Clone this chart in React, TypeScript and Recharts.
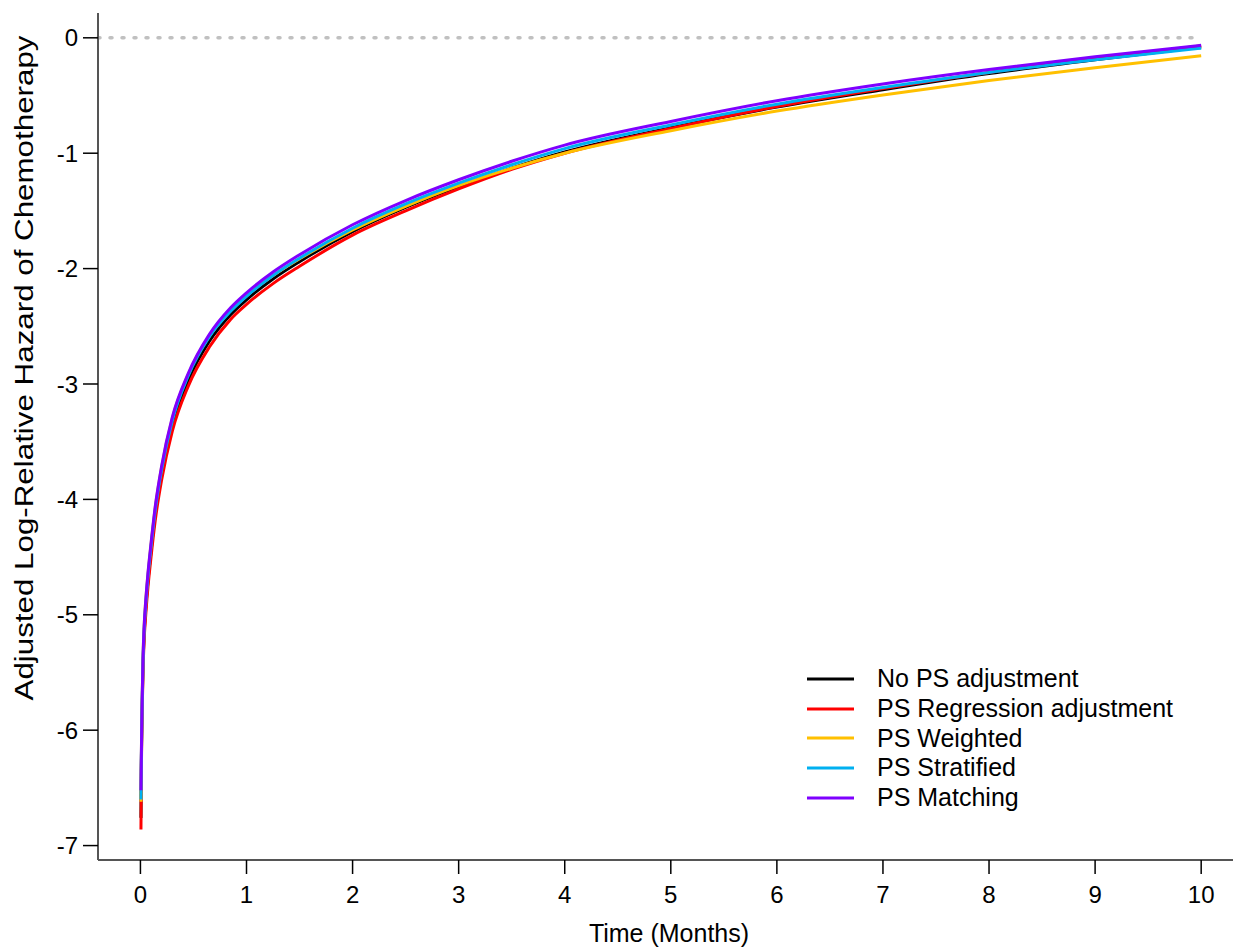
import { LineChart, Line, XAxis, YAxis, ReferenceLine, Legend } from 'recharts';

const TIME = [0.005, 0.008, 0.012, 0.018, 0.025, 0.035, 0.05, 0.07, 0.1, 0.14, 0.2, 0.3, 0.45, 0.65, 0.85, 1, 1.25, 1.5, 2, 2.5, 3, 3.5, 4, 5, 6, 7, 8, 9, 10];

const NO_PS = [-6.76, -6.35, -6.05, -5.72, -5.42, -5.17, -4.95, -4.72, -4.45, -4.13, -3.78, -3.36, -2.97, -2.63, -2.4, -2.27, -2.09, -1.94, -1.68, -1.47, -1.29, -1.13, -0.99, -0.78, -0.6, -0.45, -0.31, -0.19, -0.08];
const PS_REGRESSION = [-6.86, -6.42, -6.1, -5.77, -5.47, -5.22, -5.0, -4.77, -4.5, -4.18, -3.83, -3.41, -3.02, -2.68, -2.44, -2.31, -2.13, -1.98, -1.71, -1.5, -1.31, -1.14, -1.0, -0.785, -0.595, -0.44, -0.3, -0.18, -0.07];
const PS_WEIGHTED = [-6.62, -6.28, -5.98, -5.65, -5.35, -5.1, -4.88, -4.66, -4.39, -4.07, -3.72, -3.3, -2.92, -2.58, -2.36, -2.23, -2.06, -1.915, -1.665, -1.46, -1.28, -1.13, -1.0, -0.805, -0.635, -0.495, -0.37, -0.26, -0.155];
const PS_STRATIFIED = [-6.6, -6.3, -6.01, -5.68, -5.38, -5.13, -4.91, -4.68, -4.41, -4.09, -3.74, -3.32, -2.93, -2.59, -2.37, -2.24, -2.06, -1.91, -1.65, -1.44, -1.26, -1.1, -0.96, -0.755, -0.575, -0.43, -0.3, -0.19, -0.09];
const PS_MATCHING = [-6.52, -6.26, -5.98, -5.65, -5.35, -5.1, -4.88, -4.65, -4.38, -4.06, -3.71, -3.29, -2.91, -2.57, -2.34, -2.21, -2.03, -1.88, -1.62, -1.41, -1.23, -1.07, -0.93, -0.725, -0.545, -0.4, -0.275, -0.165, -0.065];

const X_TICKS = [0, 1, 2, 3, 4, 5, 6, 7, 8, 9, 10];
const Y_TICKS = [0, -1, -2, -3, -4, -5, -6, -7];

const SERIES = [
  { key: 'noPs', name: 'No PS adjustment', color: '#000000' },
  { key: 'regression', name: 'PS Regression adjustment', color: '#ff0000' },
  { key: 'weighted', name: 'PS Weighted', color: '#ffc000' },
  { key: 'stratified', name: 'PS Stratified', color: '#00b0f0' },
  { key: 'matching', name: 'PS Matching', color: '#7f00ff' },
];

const data = TIME.map((t, i) => ({
  t,
  noPs: NO_PS[i],
  regression: PS_REGRESSION[i],
  weighted: PS_WEIGHTED[i],
  stratified: PS_STRATIFIED[i],
  matching: PS_MATCHING[i],
}));

const FONT = '"Liberation Sans", Arial, sans-serif';

function LegendBox() {
  return (
    <div style={{ fontFamily: FONT, fontSize: 25, color: '#000' }}>
      {SERIES.map((s) => (
        <div key={s.key} style={{ display: 'flex', alignItems: 'center', height: 29.8 }}>
          <svg width={49} height={6} style={{ marginRight: 22 }}>
            <line x1={1} y1={3} x2={48} y2={3} stroke={s.color} strokeWidth={3} />
          </svg>
          <span style={{ whiteSpace: 'nowrap', lineHeight: '29.8px' }}>{s.name}</span>
        </div>
      ))}
    </div>
  );
}

export default function App() {
  return (
    <div style={{ position: 'absolute', left: 0, top: 0, background: '#fff' }}>
      <LineChart
        width={1236}
        height={949}
        data={data}
        margin={{ top: 13, right: 3, bottom: 29, left: 0 }}
      >
        <XAxis
          dataKey="t"
          type="number"
          domain={[-0.4, 10.3]}
          ticks={X_TICKS}
          allowDataOverflow
          height={60}
          axisLine={{ stroke: '#555', strokeWidth: 2 }}
          tickLine={{ stroke: '#000', strokeWidth: 1.5 }}
          tickSize={14}
          tickMargin={12}
          tick={{ fill: '#000', fontSize: 24, fontFamily: FONT }}
          label={{
            content: () => (
              <text x={669} y={942} textAnchor="middle" fontSize={25} fontFamily={FONT} fill="#000">
                Time (Months)
              </text>
            ),
          }}
        />
        <YAxis
          type="number"
          domain={[-7.125, 0.215]}
          ticks={Y_TICKS}
          allowDataOverflow
          width={98}
          axisLine={{ stroke: '#555', strokeWidth: 2 }}
          tickLine={{ stroke: '#000', strokeWidth: 1.5 }}
          tickSize={15}
          tickMargin={5}
          tick={{ fill: '#000', fontSize: 24, fontFamily: FONT }}
          label={{
            content: () => (
              <text
                x={33}
                y={368}
                textAnchor="middle"
                fontSize={25}
                fontFamily={FONT}
                fill="#000"
                textLength={665}
                lengthAdjust="spacingAndGlyphs"
                transform="rotate(-90 33 368)"
              >
                Adjusted Log-Relative Hazard of Chemotherapy
              </text>
            ),
          }}
        />
        <ReferenceLine
          segment={[{ x: -0.4, y: 0 }, { x: 10, y: 0 }]}
          stroke="#c0c0c0"
          strokeWidth={3.5}
          strokeDasharray="2 10"
          strokeLinecap="round"
        />
        {SERIES.map((s) => (
          <Line
            key={s.key}
            type="monotone"
            dataKey={s.key}
            name={s.name}
            stroke={s.color}
            strokeWidth={3}
            dot={false}
            activeDot={false}
            isAnimationActive={false}
          />
        ))}
        <Legend
          layout="horizontal"
          align="center"
          verticalAlign="middle"
          content={() => <LegendBox />}
          wrapperStyle={{ left: 806, top: 664, width: 'auto' }}
        />
      </LineChart>
    </div>
  );
}
